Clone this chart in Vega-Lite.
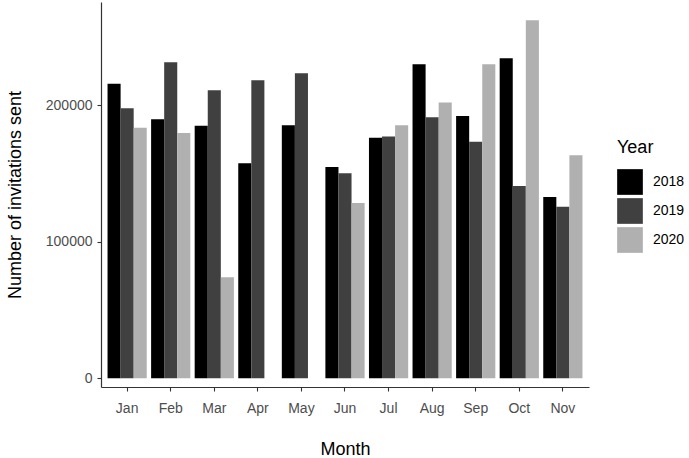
{
  "$schema": "https://vega.github.io/schema/vega-lite/v6.json",
  "autosize": {"type": "none"},
  "width": 488,
  "height": 385,
  "padding": {"left": 101, "top": 2, "right": 100, "bottom": 71},
  "background": "white",
  "config": {
    "font": "Liberation Sans",
    "view": {"stroke": null},
    "axis": {
      "domainColor": "#333333",
      "domainWidth": 1.2,
      "tickColor": "#333333",
      "tickSize": 4,
      "tickWidth": 1.1,
      "labelColor": "#4d4d4d",
      "labelFontSize": 14,
      "labelFont": "Liberation Sans",
      "titleFont": "Liberation Sans",
      "titleFontSize": 18,
      "titleFontWeight": "normal",
      "titleColor": "#000000",
      "grid": false
    },
    "legend": {
      "titleFont": "Liberation Sans",
      "labelFont": "Liberation Sans"
    }
  },
  "data": {
    "values": [
      {"Month": "Jan", "Year": "2018", "Invitations": 215700},
      {"Month": "Jan", "Year": "2019", "Invitations": 197700},
      {"Month": "Jan", "Year": "2020", "Invitations": 183500},
      {"Month": "Feb", "Year": "2018", "Invitations": 189600},
      {"Month": "Feb", "Year": "2019", "Invitations": 231300},
      {"Month": "Feb", "Year": "2020", "Invitations": 179600},
      {"Month": "Mar", "Year": "2018", "Invitations": 184900},
      {"Month": "Mar", "Year": "2019", "Invitations": 210800},
      {"Month": "Mar", "Year": "2020", "Invitations": 73900},
      {"Month": "Apr", "Year": "2018", "Invitations": 157400},
      {"Month": "Apr", "Year": "2019", "Invitations": 218200},
      {"Month": "May", "Year": "2018", "Invitations": 185200},
      {"Month": "May", "Year": "2019", "Invitations": 223300},
      {"Month": "Jun", "Year": "2018", "Invitations": 154700},
      {"Month": "Jun", "Year": "2019", "Invitations": 150100},
      {"Month": "Jun", "Year": "2020", "Invitations": 128300},
      {"Month": "Jul", "Year": "2018", "Invitations": 176100},
      {"Month": "Jul", "Year": "2019", "Invitations": 177100},
      {"Month": "Jul", "Year": "2020", "Invitations": 185200},
      {"Month": "Aug", "Year": "2018", "Invitations": 229900},
      {"Month": "Aug", "Year": "2019", "Invitations": 191100},
      {"Month": "Aug", "Year": "2020", "Invitations": 202000},
      {"Month": "Sep", "Year": "2018", "Invitations": 192000},
      {"Month": "Sep", "Year": "2019", "Invitations": 173200},
      {"Month": "Sep", "Year": "2020", "Invitations": 229900},
      {"Month": "Oct", "Year": "2018", "Invitations": 234300},
      {"Month": "Oct", "Year": "2019", "Invitations": 140800},
      {"Month": "Oct", "Year": "2020", "Invitations": 262100},
      {"Month": "Nov", "Year": "2018", "Invitations": 132700},
      {"Month": "Nov", "Year": "2019", "Invitations": 125600},
      {"Month": "Nov", "Year": "2020", "Invitations": 163300}
    ]
  },
  "mark": {"type": "bar"},
  "encoding": {
    "x": {
      "field": "Month",
      "type": "nominal",
      "sort": ["Jan", "Feb", "Mar", "Apr", "May", "Jun", "Jul", "Aug", "Sep", "Oct", "Nov"],
      "scale": {"paddingInner": 0.1, "paddingOuter": 0.15},
      "axis": {"labelAngle": 0, "labelPadding": 10, "title": "Month", "titlePadding": 25}
    },
    "xOffset": {
      "field": "Year",
      "type": "nominal",
      "scale": {"domain": ["2018", "2019", "2020"], "paddingInner": 0, "paddingOuter": 0}
    },
    "y": {
      "field": "Invitations",
      "type": "quantitative",
      "scale": {"domain": [-6370, 275500], "nice": false, "zero": false},
      "axis": {"values": [0, 100000, 200000], "format": "d", "labelPadding": 5, "title": "Number of invitations sent", "titlePadding": 21}
    },
    "fill": {
      "field": "Year",
      "type": "nominal",
      "scale": {"domain": ["2018", "2019", "2020"], "range": ["#000000", "#404040", "#b0b0b0"]},
      "legend": {
        "title": "Year",
        "orient": "none",
        "legendX": 516,
        "legendY": 137,
        "titleFontSize": 18,
        "titleFontWeight": "normal",
        "titleColor": "#000000",
        "titlePadding": 12,
        "labelFontSize": 14,
        "labelColor": "#000000",
        "labelOffset": 10,
        "symbolType": "square",
        "symbolSize": 660,
        "symbolStrokeWidth": 0,
        "rowPadding": 3
      }
    }
  }
}
